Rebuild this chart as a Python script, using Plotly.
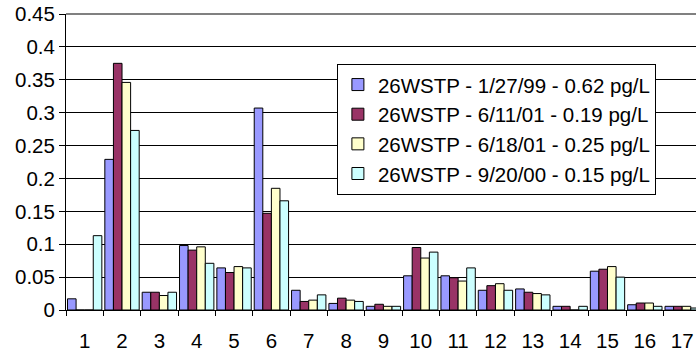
import plotly.graph_objects as go

categories = [str(i) for i in range(1, 18)]

series_names = [
    "26WSTP - 1/27/99 - 0.62 pg/L",
    "26WSTP - 6/11/01 - 0.19 pg/L",
    "26WSTP - 6/18/01 - 0.25 pg/L",
    "26WSTP - 9/20/00 - 0.15 pg/L",
]

s_1_27_99 = [0.017, 0.229, 0.027, 0.098, 0.064, 0.307, 0.030, 0.010, 0.0056, 0.052,
             0.052, 0.030, 0.032, 0.0056, 0.059, 0.008, 0.0056]
s_6_11_01 = [0.0, 0.375, 0.027, 0.091, 0.057, 0.147, 0.013, 0.018, 0.0087, 0.095,
             0.049, 0.037, 0.027, 0.0056, 0.062, 0.0106, 0.0056]
s_6_18_01 = [0.0, 0.346, 0.022, 0.096, 0.066, 0.185, 0.015, 0.015, 0.0056, 0.079,
             0.044, 0.040, 0.025, 0.0, 0.066, 0.0106, 0.0056]
s_9_20_00 = [0.113, 0.273, 0.027, 0.071, 0.064, 0.166, 0.023, 0.013, 0.0056, 0.088,
             0.064, 0.030, 0.023, 0.0056, 0.050, 0.0056, 0.003]

y_tick_vals = [0, 0.05, 0.1, 0.15, 0.2, 0.25, 0.3, 0.35, 0.4, 0.45]
y_tick_text = ["0", "0.05", "0.1", "0.15", "0.2", "0.25", "0.3", "0.35", "0.4", "0.45"]

colors = ["#9999FF", "#993366", "#FFFFCC", "#CCFFFF"]
all_series = [s_1_27_99, s_6_11_01, s_6_18_01, s_9_20_00]

FONT = "Liberation Sans, Arial, sans-serif"
FS = 20.5

fig = go.Figure()
for i, (name, vals, col) in enumerate(zip(series_names, all_series, colors)):
    fig.add_trace(go.Bar(
        x=categories, y=vals, name=name,
        marker=dict(color=col, line=dict(color="black", width=1)),
    ))

fig.update_layout(
    width=696, height=352,
    margin=dict(l=66, r=0, t=14, b=42, autoexpand=False),
    paper_bgcolor="white", plot_bgcolor="white",
    barmode="group", bargap=0.08, bargroupgap=0,
    font=dict(family=FONT, size=FS, color="black"),
    showlegend=True,
    legend=dict(
        x=0.43, y=0.832, xanchor="left", yanchor="top",
        bgcolor="white", bordercolor="black", borderwidth=1,
        font=dict(family=FONT, size=FS, color="black"),
        traceorder="normal", itemwidth=30,
    ),
    xaxis=dict(
        type="category", range=[-0.5, 16.37], automargin=False,
        showline=True, linecolor="black", linewidth=1,
        ticks="outside", ticklen=5, tickcolor="black", tickson="boundaries",
        showgrid=False, tickfont=dict(size=FS), ticklabelstandoff=12,
    ),
    yaxis=dict(
        range=[0, 0.45], tickvals=y_tick_vals, ticktext=y_tick_text, automargin=False,
        showline=True, linecolor="black", linewidth=1,
        ticks="outside", ticklen=6, tickcolor="black",
        showgrid=True, gridcolor="black", gridwidth=1,
        zeroline=False, tickfont=dict(size=FS),
    ),
    shapes=[dict(type="line", xref="paper", yref="paper", x0=0, x1=1, y0=1, y1=1,
                 line=dict(color="#808080", width=2))],
)

# remove the default 8px page margin so the figure fills the window exactly
fig.write_html("out.html", config={"displayModeBar": False},
               post_script="document.body.style.margin='0px';")
